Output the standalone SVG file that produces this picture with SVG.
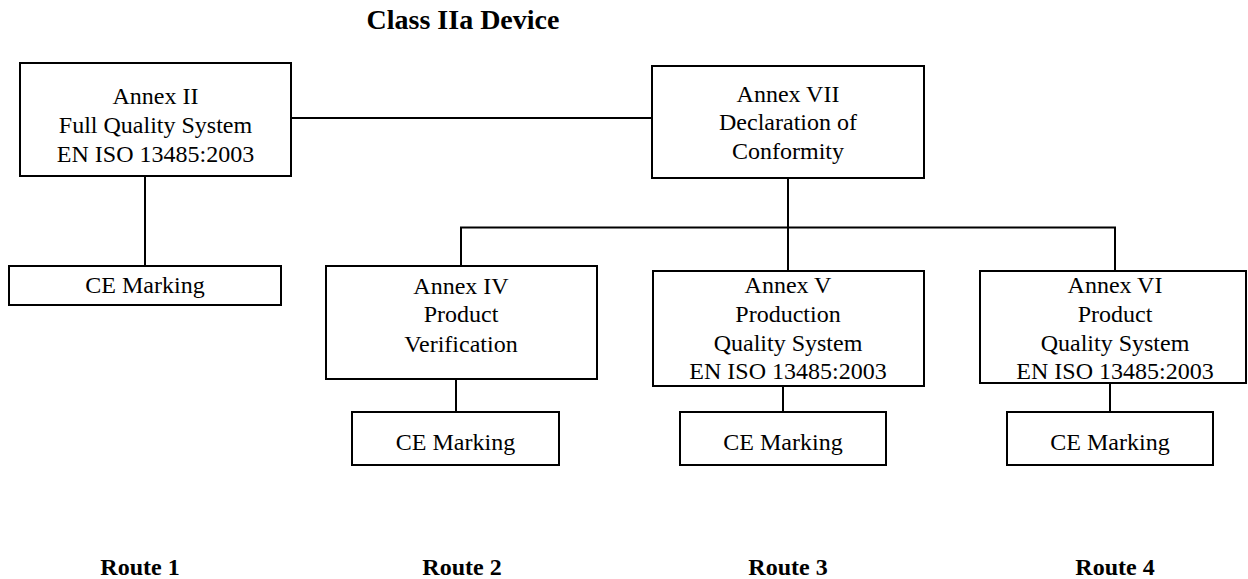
<svg xmlns="http://www.w3.org/2000/svg" width="1248" height="579" viewBox="0 0 1248 579">
<style>
.box{fill:#fff;stroke:#000;stroke-width:2}
.t{font-family:"Liberation Serif","Times New Roman",serif;font-size:24px;fill:#000;text-anchor:middle}
.b{font-family:"Liberation Serif","Times New Roman",serif;font-weight:bold;fill:#000;text-anchor:middle}
.c{stroke:#000;stroke-width:2;fill:none}
</style>
<rect width="1248" height="579" fill="#fff"/>
<text class="b" x="463" y="29" font-size="28">Class IIa Device</text>
<g id="connectors">
<line class="c" x1="291" y1="118" x2="652" y2="118"/>
<line class="c" x1="145" y1="176" x2="145" y2="266"/>
<line class="c" x1="788" y1="178" x2="788" y2="271"/>
<polyline class="c" points="461,266 461,227.5 1115,227.5 1115,271"/>
<line class="c" x1="456" y1="379" x2="456" y2="412"/>
<line class="c" x1="783" y1="386" x2="783" y2="412"/>
<line class="c" x1="1110" y1="383" x2="1110" y2="412"/>
</g>
<g id="annex2">
<rect class="box" x="20" y="63" width="271" height="113"/>
<text class="t" x="155.5" y="104">Annex II</text>
<text class="t" x="155.5" y="133">Full Quality System</text>
<text class="t" x="155.5" y="162">EN ISO 13485:2003</text>
</g>
<g id="annex7">
<rect class="box" x="652" y="66" width="272" height="112"/>
<text class="t" x="788" y="102">Annex VII</text>
<text class="t" x="788" y="130">Declaration of</text>
<text class="t" x="788" y="159">Conformity</text>
</g>
<g id="ce1">
<rect class="box" x="9" y="266" width="272" height="39"/>
<text class="t" x="145" y="293">CE Marking</text>
</g>
<g id="annex4">
<rect class="box" x="326" y="266" width="271" height="113"/>
<text class="t" x="461" y="294">Annex IV</text>
<text class="t" x="461" y="322">Product</text>
<text class="t" x="461" y="352">Verification</text>
</g>
<g id="annex5">
<rect class="box" x="653" y="271" width="271" height="115"/>
<text class="t" x="788" y="293">Annex V</text>
<text class="t" x="788" y="322">Production</text>
<text class="t" x="788" y="351">Quality System</text>
<text class="t" x="788" y="379">EN ISO 13485:2003</text>
</g>
<g id="annex6">
<rect class="box" x="980" y="271" width="266" height="112"/>
<text class="t" x="1115" y="293">Annex VI</text>
<text class="t" x="1115" y="322">Product</text>
<text class="t" x="1115" y="351">Quality System</text>
<text class="t" x="1115" y="379">EN ISO 13485:2003</text>
</g>
<g id="ce2">
<rect class="box" x="352" y="412" width="207" height="53"/>
<text class="t" x="455.5" y="450">CE Marking</text>
</g>
<g id="ce3">
<rect class="box" x="680" y="412" width="206" height="53"/>
<text class="t" x="783" y="450">CE Marking</text>
</g>
<g id="ce4">
<rect class="box" x="1007" y="412" width="206" height="53"/>
<text class="t" x="1110" y="450">CE Marking</text>
</g>
<g id="routes">
<text class="b" x="140" y="575" font-size="24">Route 1</text>
<text class="b" x="462" y="575" font-size="24">Route 2</text>
<text class="b" x="788" y="575" font-size="24">Route 3</text>
<text class="b" x="1115" y="575" font-size="24">Route 4</text>
</g>
</svg>
